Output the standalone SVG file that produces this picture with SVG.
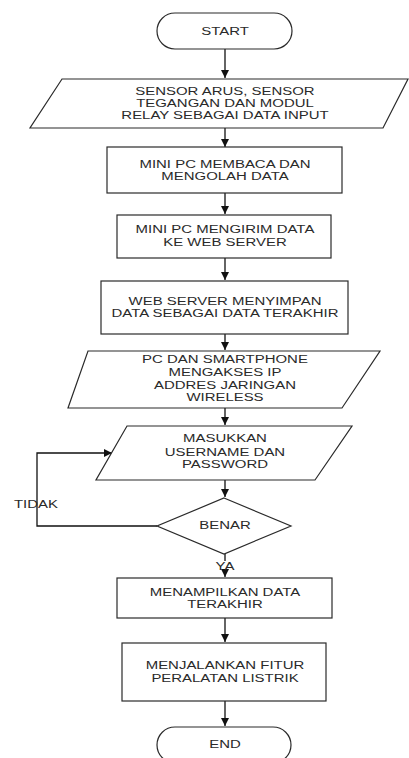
<svg xmlns="http://www.w3.org/2000/svg" width="409" height="758" viewBox="0 0 409 758">
<defs>
<marker id="ah" markerWidth="8" markerHeight="8" refX="8" refY="4" orient="auto" markerUnits="userSpaceOnUse">
<path d="M0,0 L8,4 L0,8 Z" fill="#111"/>
</marker>
<style>
.s{fill:#fff;stroke:#2a2a2a;stroke-width:1.2}
.c{fill:none;stroke:#111;stroke-width:1.3}
text{font-family:"Liberation Sans",Arial,sans-serif;font-size:11.5px;fill:#2a2a2a;text-anchor:middle}
</style>
</defs>
<rect width="409" height="758" fill="#fff"/>
<g id="connectors">
<path class="c" d="M225 49 V78" marker-end="url(#ah)"/>
<path class="c" d="M225 128 V147" marker-end="url(#ah)"/>
<path class="c" d="M225 193 V214" marker-end="url(#ah)"/>
<path class="c" d="M225 258 V280" marker-end="url(#ah)"/>
<path class="c" d="M225 334 V350" marker-end="url(#ah)"/>
<path class="c" d="M225 408 V425" marker-end="url(#ah)"/>
<path class="c" d="M225 480 V497" marker-end="url(#ah)"/>
<path class="c" d="M157 526 H37 V453 H112" marker-end="url(#ah)"/>
<path class="c" d="M225 554 V561 M225 572 V577" marker-end="url(#ah)"/>
<path class="c" d="M225 618 V642" marker-end="url(#ah)"/>
<path class="c" d="M225 701 V726" marker-end="url(#ah)"/>
<text transform="matrix(1.3 0 0 1 -67.5 0)" x="79.6" y="507.7">TIDAK</text>
<text transform="matrix(1.3 0 0 1 -67.5 0)" x="225" y="570">YA</text>
</g>
<g id="start">
<rect class="s" x="157" y="13" width="135" height="36" rx="18"/>
<text transform="matrix(1.3 0 0 1 -67.5 0)" x="225" y="35">START</text>
</g>
<g id="input-sensor">
<polygon class="s" points="62,79 408,79 383,128 30,128"/>
<text transform="matrix(1.3 0 0 1 -67.5 0)" x="225" y="95">SENSOR ARUS, SENSOR</text>
<text transform="matrix(1.3 0 0 1 -67.5 0)" x="225" y="107">TEGANGAN DAN MODUL</text>
<text transform="matrix(1.3 0 0 1 -67.5 0)" x="225" y="119.5">RELAY SEBAGAI DATA INPUT</text>
</g>
<g id="olah">
<rect class="s" x="107" y="147" width="235" height="46"/>
<text transform="matrix(1.3 0 0 1 -67.5 0)" x="225" y="167.7">MINI PC MEMBACA DAN</text>
<text transform="matrix(1.3 0 0 1 -67.5 0)" x="225" y="180">MENGOLAH DATA</text>
</g>
<g id="kirim">
<rect class="s" x="117" y="215" width="214" height="43"/>
<text transform="matrix(1.3 0 0 1 -67.5 0)" x="225" y="233.3">MINI PC MENGIRIM DATA</text>
<text transform="matrix(1.3 0 0 1 -67.5 0)" x="225" y="246">KE WEB SERVER</text>
</g>
<g id="simpan">
<rect class="s" x="101" y="281" width="247" height="53"/>
<text transform="matrix(1.3 0 0 1 -67.5 0)" x="225" y="305">WEB SERVER MENYIMPAN</text>
<text transform="matrix(1.3 0 0 1 -67.5 0)" x="225" y="317.3">DATA SEBAGAI DATA TERAKHIR</text>
</g>
<g id="akses">
<polygon class="s" points="88,351 380,351 342,408 68,408"/>
<text transform="matrix(1.3 0 0 1 -67.5 0)" x="225" y="363.3">PC DAN SMARTPHONE</text>
<text transform="matrix(1.3 0 0 1 -67.5 0)" x="225" y="375.7">MENGAKSES IP</text>
<text transform="matrix(1.3 0 0 1 -67.5 0)" x="225" y="389">ADDRES JARINGAN</text>
<text transform="matrix(1.3 0 0 1 -67.5 0)" x="225" y="400.7">WIRELESS</text>
</g>
<g id="login">
<polygon class="s" points="127,426 352,426 315,480 96,480"/>
<text transform="matrix(1.3 0 0 1 -67.5 0)" x="225" y="442.3">MASUKKAN</text>
<text transform="matrix(1.3 0 0 1 -67.5 0)" x="225" y="456">USERNAME DAN</text>
<text transform="matrix(1.3 0 0 1 -67.5 0)" x="225" y="468.3">PASSWORD</text>
</g>
<g id="benar">
<polygon class="s" points="224,498 291,526 224,554 157,526"/>
<text transform="matrix(1.3 0 0 1 -67.5 0)" x="225" y="529.3">BENAR</text>
</g>
<g id="tampil">
<rect class="s" x="117" y="578" width="215" height="40"/>
<text transform="matrix(1.3 0 0 1 -67.5 0)" x="225" y="595.7">MENAMPILKAN DATA</text>
<text transform="matrix(1.3 0 0 1 -67.5 0)" x="225" y="608.3">TERAKHIR</text>
</g>
<g id="fitur">
<rect class="s" x="122" y="643" width="204" height="58"/>
<text transform="matrix(1.3 0 0 1 -67.5 0)" x="225" y="669.3">MENJALANKAN FITUR</text>
<text transform="matrix(1.3 0 0 1 -67.5 0)" x="225" y="681.7">PERALATAN LISTRIK</text>
</g>
<g id="end">
<rect class="s" x="157" y="727" width="134" height="36" rx="18"/>
<text transform="matrix(1.3 0 0 1 -67.5 0)" x="225" y="748.3">END</text>
</g>
</svg>
